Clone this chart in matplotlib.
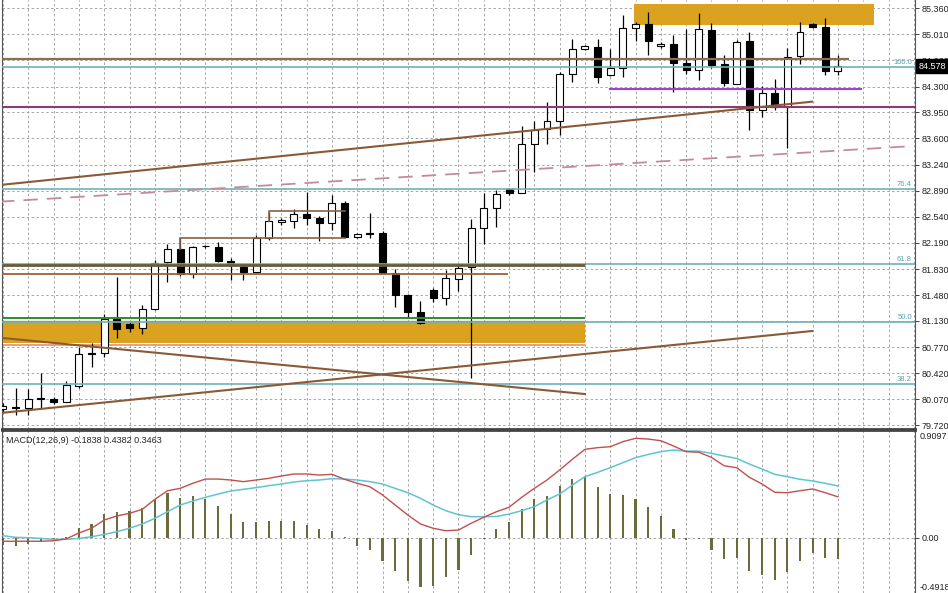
import matplotlib
matplotlib.use("Agg")
import matplotlib.pyplot as plt
from matplotlib.patches import Rectangle
import numpy as np

plt.rcParams['font.family'] = ['Liberation Sans', 'DejaVu Sans']

# velas (OHLC)
opens = [79.94, 79.96, 79.95, 80.08, 80.07, 80.03, 80.25, 80.68, 80.70, 81.16,
         81.09, 81.03, 81.29, 81.93, 82.10, 81.76, 82.14, 82.13, 81.94, 81.86,
         81.79, 82.25, 82.47, 82.48, 82.58, 82.52, 82.45, 82.73, 82.27, 82.32,
         82.32, 81.78, 81.48, 81.25, 81.55, 81.44, 81.70, 81.86, 82.39, 82.66,
         82.92, 82.86, 83.52, 83.73, 83.84, 84.47, 84.81, 84.84, 84.46, 84.55,
         85.09, 85.15, 84.85, 84.88, 84.62, 84.53, 85.07, 84.61, 84.34, 84.92,
         83.98, 84.21, 84.02, 84.71, 85.15, 85.11, 84.51]
highs = [80.02, 80.22, 80.21, 80.43, 80.10, 80.32, 80.78, 80.83, 81.22, 81.72,
         81.12, 81.35, 81.95, 82.17, 82.25, 82.14, 82.16, 82.20, 81.98, 81.89,
         82.29, 82.60, 82.52, 82.64, 82.87, 82.55, 82.83, 82.75, 82.32, 82.59,
         82.35, 81.83, 81.49, 81.40, 81.58, 81.82, 81.89, 82.51, 82.86, 82.90,
         82.93, 83.77, 83.84, 84.09, 84.50, 84.94, 84.86, 84.94, 84.81, 85.27,
         85.17, 85.31, 84.90, 85.00, 85.08, 85.30, 85.16, 84.73, 84.93, 85.04,
         84.31, 84.40, 84.82, 85.17, 85.16, 85.23, 84.73]
lows = [79.90, 79.86, 79.86, 79.95, 80.00, 80.03, 80.22, 80.51, 80.64, 80.90,
        80.98, 80.95, 81.28, 81.66, 81.74, 81.71, 82.12, 81.93, 81.68, 81.68,
        81.78, 82.22, 82.43, 82.39, 82.43, 82.21, 82.36, 82.25, 82.25, 82.25,
        81.78, 81.32, 81.17, 81.09, 81.39, 81.35, 81.53, 80.36, 82.17, 82.40,
        82.84, 82.86, 83.14, 83.52, 83.65, 84.36, 84.80, 84.35, 84.45, 84.43,
        84.92, 84.73, 84.82, 84.23, 84.47, 84.39, 84.55, 84.31, 84.33, 83.71,
        83.89, 83.98, 83.47, 84.61, 85.09, 84.46, 84.46]
closes = [79.98, 79.95, 80.07, 80.07, 80.03, 80.26, 80.68, 80.70, 81.16, 81.02,
          81.03, 81.29, 81.91, 82.10, 81.76, 82.13, 82.15, 81.94, 81.89, 81.79,
          82.25, 82.48, 82.50, 82.58, 82.52, 82.45, 82.73, 82.27, 82.31, 82.31,
          81.78, 81.48, 81.25, 81.10, 81.44, 81.71, 81.85, 82.39, 82.66, 82.85,
          82.86, 83.52, 83.71, 83.84, 84.47, 84.81, 84.85, 84.43, 84.55, 85.09,
          85.15, 84.92, 84.88, 84.62, 84.53, 85.08, 84.59, 84.35, 84.90, 83.98,
          84.21, 84.02, 84.70, 85.04, 85.11, 84.51, 84.578]

# MACD(12,26,9)
macd_hist = [-0.06, -0.07, -0.05, -0.04, -0.03, 0.01, 0.08, 0.12, 0.20, 0.22,
             0.23, 0.25, 0.33, 0.38, 0.34, 0.35, 0.33, 0.27, 0.20, 0.13,
             0.13, 0.14, 0.14, 0.14, 0.11, 0.07, 0.06, 0.005, -0.07, -0.10,
             -0.20, -0.28, -0.37, -0.42, -0.41, -0.33, -0.27, -0.15, -0.01, 0.07,
             0.13, 0.24, 0.33, 0.35, 0.44, 0.50, 0.52, 0.43, 0.37, 0.36,
             0.33, 0.26, 0.18, 0.07, -0.02, -0.015, -0.10, -0.18, -0.17, -0.28,
             -0.32, -0.36, -0.29, -0.20, -0.13, -0.17, -0.1838]
macd_line = [-0.03, -0.03, -0.03, -0.03, -0.026, -0.01, 0.04, 0.08, 0.15, 0.184,
             0.207, 0.24, 0.325, 0.398, 0.418, 0.461, 0.497, 0.497, 0.489, 0.475,
             0.489, 0.503, 0.523, 0.54, 0.54, 0.531, 0.537, 0.495, 0.461, 0.432,
             0.362, 0.277, 0.192, 0.116, 0.08, 0.059, 0.065, 0.122, 0.173, 0.22,
             0.258, 0.342, 0.418, 0.489, 0.574, 0.664, 0.749, 0.763, 0.771, 0.814,
             0.842, 0.836, 0.822, 0.777, 0.729, 0.724, 0.681, 0.61, 0.593, 0.512,
             0.455, 0.385, 0.381, 0.398, 0.413, 0.381, 0.3463]
signal_line = [0.017, 0.003, 0.0, -0.006, -0.014, -0.014, -0.006, 0.008, 0.028, 0.051,
               0.08, 0.116, 0.164, 0.22, 0.277, 0.311, 0.342, 0.37, 0.396, 0.41,
               0.424, 0.441, 0.455, 0.472, 0.483, 0.489, 0.5, 0.497, 0.489, 0.475,
               0.455, 0.418, 0.381, 0.334, 0.277, 0.229, 0.195, 0.178, 0.178, 0.18,
               0.2, 0.229, 0.263, 0.32, 0.37, 0.446, 0.517, 0.554, 0.593, 0.636,
               0.678, 0.706, 0.729, 0.743, 0.734, 0.734, 0.715, 0.692, 0.672, 0.624,
               0.582, 0.537, 0.517, 0.495, 0.481, 0.461, 0.4382]

price_ticks = [85.360, 85.010, 84.660, 84.300, 83.950, 83.600, 83.240, 82.890, 82.540,
               82.190, 81.830, 81.480, 81.130, 80.770, 80.420, 80.070, 79.720]

# niveles fibonacci
fib_levels = [84.561, 82.914, 81.900, 81.119, 80.272]
fib_names = ["100.0", "76.4", "61.8", "50.0", "38.2"]

# objetos dibujados (indice de vela, precio)
trend_up = [(-0.24, 82.969), (63.95, 84.096)]
trend_dashed = [(-0.24, 82.743), (71.94, 83.496)]
trend_low = [(-0.24, 79.883), (63.95, 80.993)]
trend_down = [(-0.24, 80.902), (46.0, 80.140)]
zone_top = (49.88, 68.85, 85.134, 85.418)
zone_low = (-1.0, 46.0, 80.827, 81.132)

last_price = 84.578

n = len(opens)
idx = np.arange(n)
xmin, xmax = -0.08, 72.09

fig = plt.figure(figsize=(9.48, 5.93), dpi=100)
ax = fig.add_axes([2 / 948, 164 / 593, 913 / 948, 429 / 593])
axm = fig.add_axes([2 / 948, 0, 913 / 948, 163 / 593])

grid_kw = dict(color='#a6a6a6', lw=0.7, ls=(0, (2.5, 2.5)))

# ---- panel de precios ----
ax.set_xlim(xmin, xmax)
ax.set_ylim(79.667, 85.472)
ax.set_xticks(np.arange(0, 73, 2))
ax.set_xticklabels([])
ax.set_yticks(price_ticks)
ax.set_yticklabels(["%.3f" % t for t in price_ticks])
ax.yaxis.tick_right()
ax.tick_params(axis='y', labelsize=6.5, length=3, pad=1.5, width=0.6, colors='#222222')
ax.tick_params(axis='x', length=0)
ax.grid(True, **grid_kw)
ax.set_axisbelow(True)
ax.spines['top'].set_visible(False)
ax.spines['left'].set_color('#555555')
ax.spines['right'].set_color('#555555')
ax.spines['bottom'].set_color('#444444')
ax.spines['bottom'].set_linewidth(2)

# zonas
for z in [zone_top, zone_low]:
    ax.add_patch(Rectangle((z[0], z[2]), z[1] - z[0], z[3] - z[2],
                           facecolor='#dba21f', edgecolor='none', zorder=1))
ax.hlines(81.132, zone_low[0], zone_low[1], color='#a09050', lw=1.0, zorder=1.5)
ax.hlines(80.805, zone_low[0], zone_low[1], color='#e0906a', lw=1.2, zorder=1.5)

# velas
ax.vlines(idx, lows, highs, color='black', lw=0.9, zorder=3)
bottoms = [min(o, c) for o, c in zip(opens, closes)]
heights = [max(abs(c - o), 0.01) for o, c in zip(opens, closes)]
cols = ['white' if c >= o else 'black' for o, c in zip(opens, closes)]
ax.bar(idx, heights, bottom=bottoms, width=0.55, color=cols,
       edgecolor='black', linewidth=0.8, zorder=4)

# fibonacci
for lev, name in zip(fib_levels, fib_names):
    ax.axhline(lev, color='#6fb0b8', lw=1.2, zorder=5)
    ax.text(71.85, lev + 0.015, name, ha='right', va='bottom', fontsize=5.5,
            color='#5aa3ab', zorder=6)

# lineas horizontales
ax.hlines(84.674, xmin, 66.88, color='#8b6f4e', lw=1.6, zorder=5)
ax.hlines(84.264, 47.9, 67.9, color='#a040d0', lw=1.5, zorder=5)
ax.axhline(84.028, color='#8e3a72', lw=1.5, zorder=5)
ax.hlines(81.886, xmin, 46.0, color='#6a5a3a', lw=2.0, zorder=5)
ax.hlines(81.760, xmin, 39.92, color='#a0603a', lw=1.3, zorder=5)
ax.hlines(81.173, xmin, 46.0, color='#2e8b2e', lw=1.4, zorder=5)

# cajas
ax.plot([14, 14, 27], [82.10, 82.247, 82.247], color='#8b6040', lw=1.2, zorder=5)
ax.plot([21, 21, 27], [82.48, 82.617, 82.617], color='#8b6040', lw=1.2, zorder=5)

# lineas de tendencia
for tl in [trend_up, trend_low, trend_down]:
    ax.plot([tl[0][0], tl[1][0]], [tl[0][1], tl[1][1]], color='#8a5a36', lw=1.5, zorder=5)
ax.plot([trend_dashed[0][0], trend_dashed[1][0]], [trend_dashed[0][1], trend_dashed[1][1]],
        color='#c48a9a', lw=1.3, ls=(0, (8, 5)), zorder=5)

# precio actual
ax.annotate("%.3f" % last_price, xy=(1.0, last_price), xycoords=('axes fraction', 'data'),
            xytext=(2.5, 0), textcoords='offset points', ha='left', va='center',
            fontsize=6.5, color='white', annotation_clip=False, zorder=10,
            bbox=dict(boxstyle='square,pad=0.3', fc='black', ec='black'))

# ---- panel MACD ----
axm.set_xlim(xmin, xmax)
axm.set_ylim(-0.4686, 0.9127)
axm.bar(idx, macd_hist, width=0.17, color='#6b6b3e', zorder=2)
axm.plot(idx, signal_line, color='#5ec4d2', lw=1.1, zorder=3)
axm.plot(idx, macd_line, color='#c0504d', lw=1.0, zorder=4)
axm.set_xticks(np.arange(0, 73, 2))
axm.set_xticklabels([])
axm.set_yticks([0.0])
axm.set_yticklabels(["0.00"])
axm.yaxis.tick_right()
axm.tick_params(axis='y', labelsize=6.5, length=3, pad=1.5, width=0.6, colors='#222222')
axm.tick_params(axis='x', length=0)
axm.grid(True, **grid_kw)
axm.set_axisbelow(True)
axm.spines['bottom'].set_visible(False)
axm.spines['top'].set_color('#444444')
axm.spines['top'].set_linewidth(2)
axm.spines['left'].set_color('#555555')
axm.spines['right'].set_color('#555555')
axm.text(1.005, 0.985, "0.9097", transform=axm.transAxes, ha='left', va='top',
         fontsize=6.5, color='#222222')
axm.text(1.005, 0.005, "-0.4918", transform=axm.transAxes, ha='left', va='bottom',
         fontsize=6.5, color='#222222')
axm.text(0.004, 0.965, "MACD(12,26,9) -0.1838 0.4382 0.3463", transform=axm.transAxes,
         ha='left', va='top', fontsize=6.5, color='#222222')

fig.savefig("out.png", dpi=100)
